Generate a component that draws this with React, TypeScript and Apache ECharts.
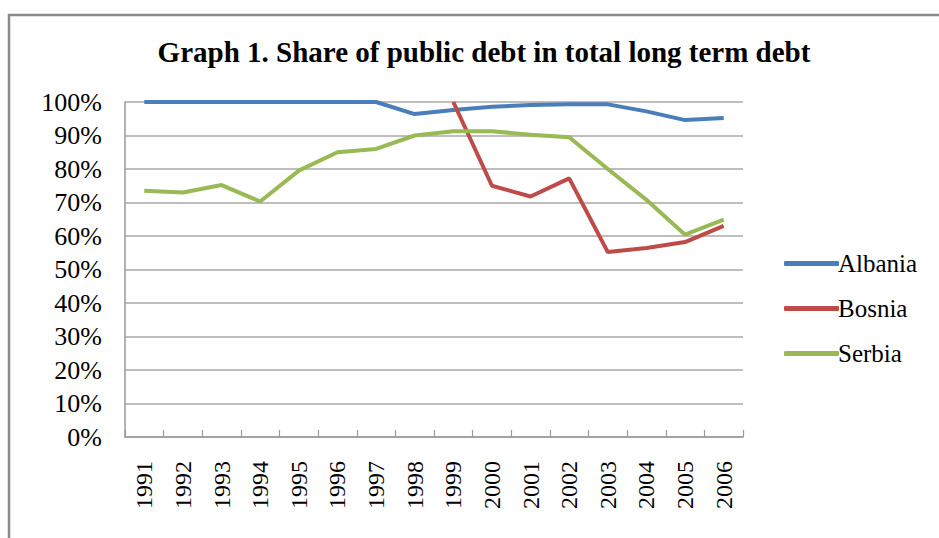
import React, { useEffect, useRef } from "react";
import * as echarts from "echarts";

const titleText = "Graph 1. Share of public debt in total long term debt";
const years = ["1991","1992","1993","1994","1995","1996","1997","1998","1999","2000","2001","2002","2003","2004","2005","2006"];
const albania = [100, 100, 100, 100, 100, 100, 100, 96.4, 97.6, 98.6, 99.1, 99.3, 99.3, 97.2, 94.6, 95.2];
const bosnia = [null, null, null, null, null, null, null, null, 100, 75, 71.8, 77.2, 55.2, 56.4, 58.2, 63];
const serbia = [73.5, 73, 75.2, 70.3, 79.5, 85, 86, 90, 91.3, 91.3, 90.2, 89.5, 80, 70.8, 60.4, 64.9];
const seriesNames = ["Albania", "Bosnia", "Serbia"];
const colors = ["#4a7ebb", "#be4b48", "#98b954"];

const FONT = '"Liberation Serif", "Times New Roman", serif';

export default function App() {
  const ref = useRef<HTMLDivElement>(null);
  useEffect(() => {
    if (!ref.current) return;
    const chart = echarts.init(ref.current, undefined, { renderer: "svg" });
    const datas = [albania, bosnia, serbia];
    chart.setOption({
      animation: false,
      backgroundColor: "#ffffff",
      title: {
        text: titleText,
        left: 479,
        top: 32,
        textAlign: "center",
        textStyle: { fontFamily: FONT, fontSize: 29, fontWeight: "bold", color: "#000" },
      },
      graphic: [
        {
          type: "rect",
          shape: { x: 9, y: 15, width: 1000, height: 600 },
          style: { fill: "none", stroke: "#8a8a8a", lineWidth: 2.5 },
          silent: true,
        },
      ],
      legend: {
        orient: "vertical",
        left: 779,
        top: 246,
        itemWidth: 55,
        itemHeight: 5,
        itemGap: 20,
        icon: "roundRect",
        data: seriesNames,
        textStyle: { fontFamily: FONT, fontSize: 25, color: "#000", padding: [0, 0, 0, -6] },
      },
      grid: { left: 125, right: 196, top: 102, bottom: 101, containLabel: false },
      xAxis: {
        type: "category",
        data: years,
        boundaryGap: true,
        axisLine: { lineStyle: { color: "#9a9a9a", width: 1.5 } },
        axisTick: { show: true, inside: true, length: 7, alignWithLabel: false, lineStyle: { color: "#9a9a9a", width: 1.2 } },
        axisLabel: { rotate: 90, margin: 24, fontFamily: FONT, fontSize: 24, color: "#000", interval: 0 },
      },
      yAxis: {
        type: "value",
        min: 0,
        max: 100,
        interval: 10,
        axisLine: { show: true, lineStyle: { color: "#9a9a9a", width: 1.5 } },
        axisTick: { show: false },
        splitLine: { show: true, lineStyle: { color: "#a8a8a8", width: 1.5 } },
        axisLabel: { formatter: "{value}%", margin: 23, fontFamily: FONT, fontSize: 26, color: "#000" },
      },
      series: seriesNames.map((name, i) => ({
        name,
        type: "line",
        data: datas[i],
        showSymbol: false,
        symbol: "none",
        connectNulls: false,
        lineStyle: { color: colors[i], width: 4 },
        itemStyle: { color: colors[i] },
      })),
    });
    return () => chart.dispose();
  }, []);
  return (
    <div
      ref={ref}
      style={{ position: "fixed", left: 0, top: 0, width: 939, height: 538 }}
    />
  );
}
